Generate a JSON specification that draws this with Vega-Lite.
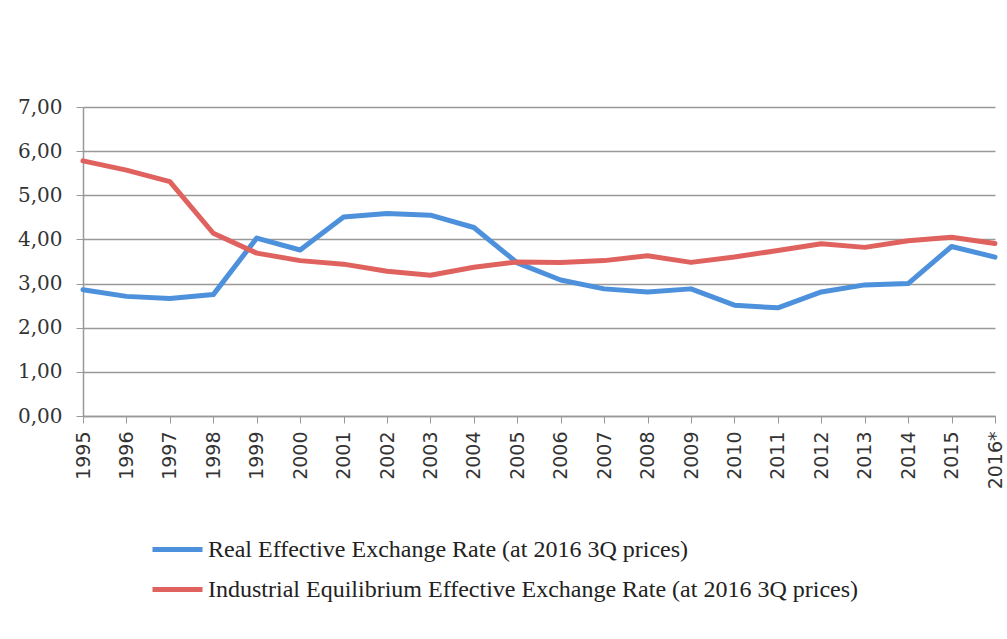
{
  "$schema": "https://vega.github.io/schema/vega-lite/v6.json",
  "width": 912,
  "height": 309,
  "autosize": {"type": "none"},
  "padding": {"left": 83, "top": 107, "right": 12, "bottom": 223},
  "background": "white",
  "data": {"values": [
    {"year": "1995", "series": "Real Effective Exchange Rate (at 2016 3Q prices)", "value": 2.86},
    {"year": "1996", "series": "Real Effective Exchange Rate (at 2016 3Q prices)", "value": 2.71},
    {"year": "1997", "series": "Real Effective Exchange Rate (at 2016 3Q prices)", "value": 2.66},
    {"year": "1998", "series": "Real Effective Exchange Rate (at 2016 3Q prices)", "value": 2.75},
    {"year": "1999", "series": "Real Effective Exchange Rate (at 2016 3Q prices)", "value": 4.03},
    {"year": "2000", "series": "Real Effective Exchange Rate (at 2016 3Q prices)", "value": 3.76},
    {"year": "2001", "series": "Real Effective Exchange Rate (at 2016 3Q prices)", "value": 4.51},
    {"year": "2002", "series": "Real Effective Exchange Rate (at 2016 3Q prices)", "value": 4.59},
    {"year": "2003", "series": "Real Effective Exchange Rate (at 2016 3Q prices)", "value": 4.55},
    {"year": "2004", "series": "Real Effective Exchange Rate (at 2016 3Q prices)", "value": 4.27},
    {"year": "2005", "series": "Real Effective Exchange Rate (at 2016 3Q prices)", "value": 3.47},
    {"year": "2006", "series": "Real Effective Exchange Rate (at 2016 3Q prices)", "value": 3.08},
    {"year": "2007", "series": "Real Effective Exchange Rate (at 2016 3Q prices)", "value": 2.88},
    {"year": "2008", "series": "Real Effective Exchange Rate (at 2016 3Q prices)", "value": 2.81},
    {"year": "2009", "series": "Real Effective Exchange Rate (at 2016 3Q prices)", "value": 2.88},
    {"year": "2010", "series": "Real Effective Exchange Rate (at 2016 3Q prices)", "value": 2.51},
    {"year": "2011", "series": "Real Effective Exchange Rate (at 2016 3Q prices)", "value": 2.45},
    {"year": "2012", "series": "Real Effective Exchange Rate (at 2016 3Q prices)", "value": 2.81},
    {"year": "2013", "series": "Real Effective Exchange Rate (at 2016 3Q prices)", "value": 2.97},
    {"year": "2014", "series": "Real Effective Exchange Rate (at 2016 3Q prices)", "value": 3.00},
    {"year": "2015", "series": "Real Effective Exchange Rate (at 2016 3Q prices)", "value": 3.84},
    {"year": "2016*", "series": "Real Effective Exchange Rate (at 2016 3Q prices)", "value": 3.60},
    {"year": "1995", "series": "Industrial Equilibrium Effective Exchange Rate (at 2016 3Q prices)", "value": 5.78},
    {"year": "1996", "series": "Industrial Equilibrium Effective Exchange Rate (at 2016 3Q prices)", "value": 5.57},
    {"year": "1997", "series": "Industrial Equilibrium Effective Exchange Rate (at 2016 3Q prices)", "value": 5.31},
    {"year": "1998", "series": "Industrial Equilibrium Effective Exchange Rate (at 2016 3Q prices)", "value": 4.14},
    {"year": "1999", "series": "Industrial Equilibrium Effective Exchange Rate (at 2016 3Q prices)", "value": 3.69},
    {"year": "2000", "series": "Industrial Equilibrium Effective Exchange Rate (at 2016 3Q prices)", "value": 3.52},
    {"year": "2001", "series": "Industrial Equilibrium Effective Exchange Rate (at 2016 3Q prices)", "value": 3.44},
    {"year": "2002", "series": "Industrial Equilibrium Effective Exchange Rate (at 2016 3Q prices)", "value": 3.28},
    {"year": "2003", "series": "Industrial Equilibrium Effective Exchange Rate (at 2016 3Q prices)", "value": 3.19},
    {"year": "2004", "series": "Industrial Equilibrium Effective Exchange Rate (at 2016 3Q prices)", "value": 3.37},
    {"year": "2005", "series": "Industrial Equilibrium Effective Exchange Rate (at 2016 3Q prices)", "value": 3.49},
    {"year": "2006", "series": "Industrial Equilibrium Effective Exchange Rate (at 2016 3Q prices)", "value": 3.48},
    {"year": "2007", "series": "Industrial Equilibrium Effective Exchange Rate (at 2016 3Q prices)", "value": 3.52},
    {"year": "2008", "series": "Industrial Equilibrium Effective Exchange Rate (at 2016 3Q prices)", "value": 3.63},
    {"year": "2009", "series": "Industrial Equilibrium Effective Exchange Rate (at 2016 3Q prices)", "value": 3.48},
    {"year": "2010", "series": "Industrial Equilibrium Effective Exchange Rate (at 2016 3Q prices)", "value": 3.60},
    {"year": "2011", "series": "Industrial Equilibrium Effective Exchange Rate (at 2016 3Q prices)", "value": 3.75},
    {"year": "2012", "series": "Industrial Equilibrium Effective Exchange Rate (at 2016 3Q prices)", "value": 3.90},
    {"year": "2013", "series": "Industrial Equilibrium Effective Exchange Rate (at 2016 3Q prices)", "value": 3.82},
    {"year": "2014", "series": "Industrial Equilibrium Effective Exchange Rate (at 2016 3Q prices)", "value": 3.97},
    {"year": "2015", "series": "Industrial Equilibrium Effective Exchange Rate (at 2016 3Q prices)", "value": 4.05},
    {"year": "2016*", "series": "Industrial Equilibrium Effective Exchange Rate (at 2016 3Q prices)", "value": 3.91}
  ]},
  "mark": {"type": "line", "strokeWidth": 5, "strokeJoin": "round", "strokeCap": "round", "clip": false},
  "encoding": {
    "x": {
      "field": "year", "type": "ordinal",
      "scale": {"type": "point", "padding": 0},
      "axis": {
        "title": null,
        "labelAngle": -90,
        "labelFont": "DejaVu Sans",
        "labelFontSize": 19,
        "labelColor": "#333",
        "labelPadding": 8,
        "tickSize": 7,
        "tickColor": "#999",
        "domainColor": "#999",
        "domainWidth": 1.5,
        "grid": false
      }
    },
    "y": {
      "field": "value", "type": "quantitative",
      "scale": {"domain": [0, 7]},
      "axis": {
        "title": null,
        "values": [0, 1, 2, 3, 4, 5, 6, 7],
        "labelExpr": "replace(format(datum.value, '.2f'), '.', ',')",
        "labelFont": "DejaVu Serif",
        "labelFontSize": 20,
        "labelColor": "#333",
        "labelPadding": 14,
        "tickSize": 7,
        "tickColor": "#999",
        "domainColor": "#999",
        "domainWidth": 1.5,
        "gridColor": "#999",
        "gridWidth": 1.3
      }
    },
    "color": {
      "field": "series", "type": "nominal",
      "sort": ["Real Effective Exchange Rate (at 2016 3Q prices)", "Industrial Equilibrium Effective Exchange Rate (at 2016 3Q prices)"],
      "scale": {"range": ["#4d90db", "#e0625f"]},
      "legend": {
        "title": null,
        "orient": "none",
        "legendX": 67,
        "legendY": 415,
        "direction": "vertical",
        "symbolType": "stroke",
        "symbolSize": 2500,
        "symbolStrokeWidth": 5,
        "labelFont": "Liberation Serif",
        "labelFontSize": 24,
        "labelColor": "#222",
        "labelLimit": 900,
        "rowPadding": -4,
        "labelOffset": 3
      }
    }
  },
  "config": {"view": {"stroke": null}}
}
